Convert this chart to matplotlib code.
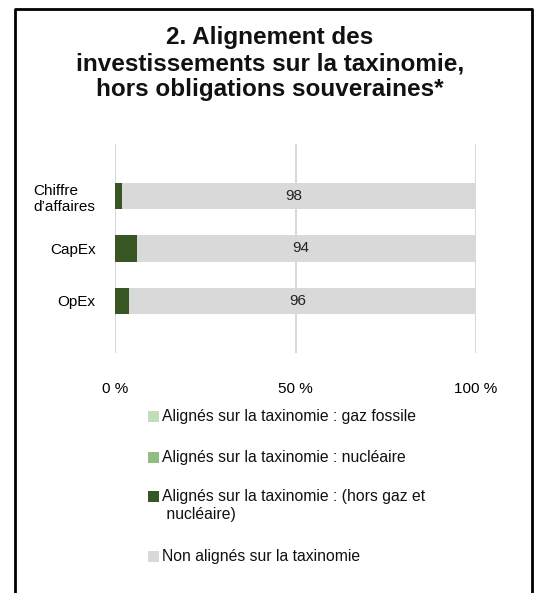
import matplotlib
matplotlib.use("Agg")
import matplotlib.pyplot as plt
from matplotlib.lines import Line2D
from matplotlib.patches import Rectangle
from matplotlib.ticker import FuncFormatter

plt.rcParams['font.family'] = ['Liberation Sans Narrow', 'Liberation Sans', 'DejaVu Sans']

# data
categories = ["Chiffre\nd\u2019affaires", "CapEx", "OpEx"]
gaz_fossile = [0, 0, 0]
nucleaire = [0, 0, 0]
hors_gaz_nucl = [2, 6, 4]
non_alignes = [98, 94, 96]
ticks = [0, 50, 100]

series_names = ["Align\u00e9s sur la taxinomie : gaz fossile",
                "Align\u00e9s sur la taxinomie : nucl\u00e9aire",
                "Align\u00e9s sur la taxinomie : (hors gaz et\n nucl\u00e9aire)",
                "Non align\u00e9s sur la taxinomie"]
colors = ["#c3ddbb", "#91bd80", "#375623", "#d9d9d9"]

W, H = 539, 593
fig = plt.figure(figsize=(W / 100, H / 100), dpi=100)
ax = fig.add_axes([115 / W, 1 - 353 / H, 361 / W, 209 / H])

y = list(range(len(categories)))
left = [0] * len(categories)
bars = []
for vals, col in zip([gaz_fossile, nucleaire, hors_gaz_nucl, non_alignes], colors):
    b = ax.barh(y, vals, left=left, height=0.5, color=col, zorder=3)
    bars.append(b)
    left = [l + v for l, v in zip(left, vals)]

for rect, v in zip(bars[3], non_alignes):
    ax.text(rect.get_x() + rect.get_width() / 2 - 1.5, rect.get_y() + rect.get_height() / 2,
            str(v), ha='center', va='center', fontsize=11, color='#222222', zorder=4)

ax.set_xlim(0, 100)
ax.set_ylim(3, -1)
ax.set_yticks(y)
ax.set_yticklabels(categories, fontsize=11, multialignment='left')
ax.set_xticks(ticks)
ax.xaxis.set_major_formatter(FuncFormatter(lambda v, p: "%d %%" % v))
ax.tick_params(axis='x', labelsize=11, length=0, pad=21)
ax.tick_params(axis='y', length=0, pad=14)
ax.grid(axis='x', color='#d9d9d9', linewidth=1.5, zorder=0)
for s in ax.spines.values():
    s.set_visible(False)

fig.text(270 / W, 1 - 26 / H, "2. Alignement des\ninvestissements sur la taxinomie,\nhors obligations souveraines*",
         ha='center', va='top', fontsize=17.5, fontweight='bold', linespacing=1.17,
         color='#111111')

# legend, drawn by hand so the squares line up with the first text line
leg_rows = [418, 459, 498, 558]
for name, col, yr in zip(series_names, colors, leg_rows):
    fig.add_artist(Rectangle((148 / W, 1 - (yr + 4) / H), 11 / W, 11 / H,
                             facecolor=col, edgecolor='none', transform=fig.transFigure))
    fig.text(162 / W, 1 - (yr - 9) / H, name, ha='left', va='top', fontsize=11.3,
             linespacing=1.25, color='#111111')

# frame around the chart (open at the bottom)
x0, x1, yt = 15 / W, 532 / W, 1 - 9 / H
fig.add_artist(Line2D([x0, x0, x1, x1], [0, yt, yt, 0], color='black', linewidth=2,
                      transform=fig.transFigure))

fig.savefig("out.png", dpi=100)
